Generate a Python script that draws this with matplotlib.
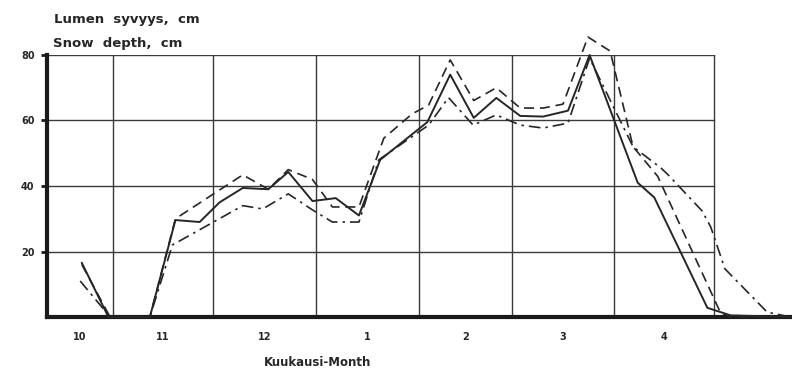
import matplotlib
matplotlib.use("Agg")
import matplotlib.pyplot as plt

# x = days counted from 1 November, y = snow depth in cm
solid_x = [-9.5, -1.5, 11, 18.7, 26, 32, 39, 46.7, 52.7, 60, 67, 74, 80.4, 94.6,
           101.5, 108.6, 115.4, 122.6, 129.5, 137, 143.5, 158, 163, 179, 186, 204]
solid_y = [16.5, 0, 0, 29.6, 29, 35, 39.4, 39, 44.3, 35.4, 36.3, 31, 48, 59.5,
           74, 60.8, 66.9, 61.4, 61.2, 63, 80, 41, 36.5, 2.8, 0.5, 0]

dash_x = [-9.5, -1, 11, 18.7, 39, 46.7, 52.7, 60, 66, 74, 81.5, 90, 95, 101.5,
          108.6, 115.4, 122.6, 129.5, 135.5, 143, 149.7, 156.6, 164, 183, 186, 204]
dash_y = [16, 0, 0, 30, 43.4, 39, 45, 42, 33.6, 33.6, 54.6, 62, 64.7, 78.5,
          66.1, 70, 63.8, 63.8, 65, 85.5, 81.2, 52, 43, 1.2, 0, 0]

dd_x = [-10, -1, 11, 17.8, 39, 45, 52.7, 60, 66, 74, 80, 95, 101, 108.4,
        115.4, 122.6, 129.5, 137, 143.5, 156.6, 165, 167, 177.4, 180, 184.3, 197, 204]
dd_y = [11, 0, 0, 22, 34, 33, 37.6, 32.7, 29, 29, 48, 58.6, 67, 58.6,
        61.7, 58.6, 57.7, 59.2, 79, 52, 45.5, 43.6, 32.4, 27.5, 14.7, 1.5, 0]

month_edges = [0, 30, 61, 92, 120, 151, 181]
month_mid = [-10, 15, 45.5, 76.5, 106, 135.5, 166]
month_labels = ["10", "11", "12", "1", "2", "3", "4"]
y_ticks = [20, 40, 60, 80]

ink = "#262626"

fig = plt.figure(figsize=(7.92, 3.71), dpi=100)
ax = fig.add_axes([47 / 792, 54 / 371, 1 - 47 / 792, 262 / 371])
ax.set_xlim(-20, 204.5)
ax.set_ylim(0, 80)

# grid drawn by hand since it stops at 1 May
for y in y_ticks:
    ax.plot([-20, 181], [y, y], color="#3a3a3a", lw=1.0, zorder=1)
for x in month_edges:
    ax.plot([x, x], [0, 80], color="#3a3a3a", lw=1.0, zorder=1)

ax.plot(solid_x, solid_y, color=ink, lw=1.4, clip_on=False, zorder=3)
ax.plot(dash_x, dash_y, color=ink, lw=1.2, dashes=(6, 3.5), clip_on=False, zorder=3)
ax.plot(dd_x, dd_y, color=ink, lw=1.2, dashes=(7, 3, 1.5, 3), clip_on=False, zorder=3)

for s in ["top", "right"]:
    ax.spines[s].set_visible(False)
for s in ["left", "bottom"]:
    ax.spines[s].set_linewidth(3)
    ax.spines[s].set_color("#1a1a1a")

ax.set_yticks(y_ticks)
ax.set_yticklabels([str(v) for v in y_ticks], fontsize=7, fontweight="bold", color=ink)
ax.tick_params(axis="y", length=4, width=2, color="#1a1a1a", pad=5)
ax.set_xticks(month_mid)
ax.set_xticklabels(month_labels, fontsize=7, fontweight="bold", color=ink)
ax.tick_params(axis="x", length=0, pad=11)

fig.text(54 / 792, 1 - 19 / 371, "Lumen  syvyys,  cm", fontsize=9.5, fontweight="bold",
         color=ink, va="center")
fig.text(53 / 792, 1 - 44 / 371, "Snow  depth,  cm", fontsize=9.5, fontweight="bold",
         color=ink, va="center")
fig.text(318 / 792, 1 - 362 / 371, "Kuukausi-Month", fontsize=8.5, fontweight="bold",
         color=ink, ha="center", va="center")

fig.savefig("out.png", dpi=100)
